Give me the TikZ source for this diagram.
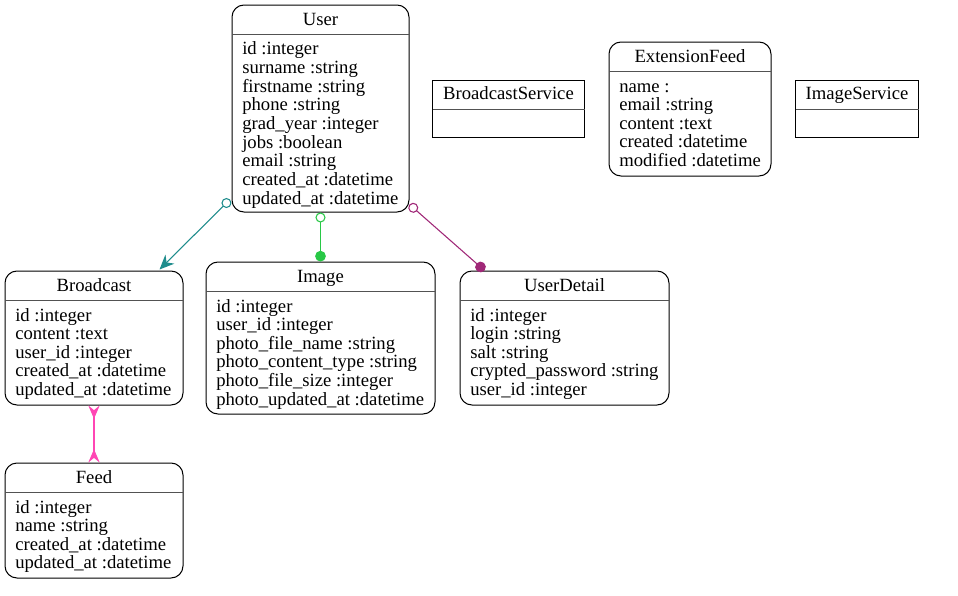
\documentclass[tikz,border=0pt]{standalone}
\usepackage{fontspec}
\setmainfont{Liberation Serif}
\usetikzlibrary{fit,arrows.meta}
\definecolor{cteal}{RGB}{30,140,140}
\definecolor{cgreen}{RGB}{40,200,70}
\definecolor{cpurple}{RGB}{160,40,120}
\definecolor{cpink}{RGB}{255,70,180}
\tikzset{
  entity/.style={draw=black, line width=0.75pt, rounded corners=9pt, inner sep=0pt},
  service/.style={draw=black, line width=0.75pt, inner sep=0pt},
  divider/.style={draw=black!68, line width=1.4pt},
  ttl/.style={anchor=base, inner sep=0pt, font=\fontsize{14}{14}\selectfont},
  attr/.style={anchor=base west, inner sep=0pt, font=\fontsize{14}{14}\selectfont},
  rel/.style={line width=0.8pt},
  opencirc/.tip={Circle[open,length=7.5pt,line width=0.8pt]},
  dot/.tip={Circle[length=8pt]},
  crow/.tip={Stealth[reversed,length=10pt,width=8.5pt,inset=3.5pt]},
}
\newcommand\erdbox[7]{%
  \coordinate (#1-nw) at (#2,#3);
  \coordinate (#1-se) at (#4,#5);
  \node[entity, fit=(#1-nw) (#1-se)] (#1) {};
  \draw[divider] (#2,#3+29.5) -- (#4,#3+29.5);
  \node[ttl] (#1-title) at ({(#2+#4)/2},#3+20.5) {#6};
  \foreach \myattr [count=\myi] in {#7}
    \node[attr] (#1-\myi) at (#2+10,{#3+50+18.65*(\myi-1)}) {\myattr};
}
\newcommand\servicebox[6]{%
  \coordinate (#1-nw) at (#2,#3);
  \coordinate (#1-se) at (#4,#5);
  \node[service, fit=(#1-nw) (#1-se)] (#1) {};
  \draw[divider] (#2,#3+29) -- (#4,#3+29);
  \node[ttl] (#1-title) at ({(#2+#4)/2},#3+19) {#6};
}
\begin{document}
\begin{tikzpicture}[x=0.75pt,y=-0.75pt]
\useasboundingbox[fill=white] (0,0) rectangle (958,596);

\erdbox{user}{232}{5}{409}{212}{User}{id :integer, surname :string, firstname :string, phone :string, grad\_year :integer, jobs :boolean, email :string, created\_at :datetime, updated\_at :datetime}
\servicebox{bservice}{432.5}{80.5}{584.5}{137.5}{BroadcastService}
\erdbox{extfeed}{609}{42}{771}{176}{ExtensionFeed}{name :, email :string, content :text, created :datetime, modified :datetime}
\servicebox{iservice}{795.5}{80.5}{918.5}{137.5}{ImageService}
\erdbox{broadcast}{5}{271}{183}{405}{Broadcast}{id :integer, content :text, user\_id :integer, created\_at :datetime, updated\_at :datetime}
\erdbox{image}{206}{262}{435}{414}{Image}{id :integer, user\_id :integer, photo\_file\_name :string, photo\_content\_type :string, photo\_file\_size :integer, photo\_updated\_at :datetime}
\erdbox{userdetail}{460}{271}{669}{405}{UserDetail}{id :integer, login :string, salt :string, crypted\_password :string, user\_id :integer}
\erdbox{feed}{5}{463}{183}{578}{Feed}{id :integer, name :string, created\_at :datetime, updated\_at :datetime}

\draw[rel, cteal, {opencirc}-{Stealth[length=11pt,width=9.5pt,inset=3.5pt]}]
  ([shift={(-1.5,-13)}]user.south west) -- ([shift={(-24,-1)}]broadcast.north east);
\draw[rel, cgreen, {opencirc}-{dot}]
  (user.south) -- (image.north);
\draw[rel, cpurple, {opencirc}-{dot}]
  ([shift={(0,-8)}]user.south east) -- ([shift={(25,0)}]userdetail.north west);
\draw[rel, cpink, {crow}-{crow}]
  (broadcast.south) -- (feed.north);
\end{tikzpicture}
\end{document}
